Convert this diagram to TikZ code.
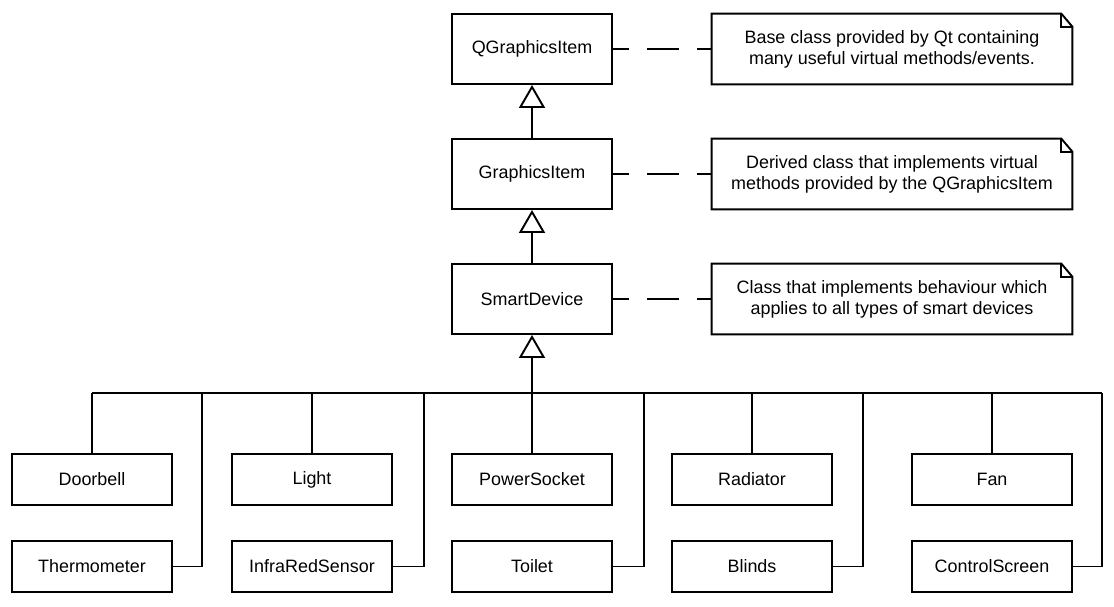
\documentclass[tikz,border=0pt]{standalone}
\usepackage{fontspec}
\setmainfont{Liberation Sans}
\usetikzlibrary{positioning,arrows.meta,calc}

\tikzset{
  classbox/.style={draw, rectangle, line width=1.1pt, minimum width=3.2cm, minimum height=1.4cm, inner sep=0pt},
  leafbox/.style={classbox, minimum height=1.02cm},
  notebox/.style={rectangle, minimum width=7.2cm, minimum height=1.4cm, inner sep=0pt, align=center},
  notelink/.style={line width=1.1pt, dash pattern=on 0.64cm off 0.36cm, dash phase=0.32cm},
  inherit/.style={line width=1.1pt, -{Triangle[open, length=0.46cm, width=0.52cm]}},
  wire/.style={line width=1.1pt},
}

\begin{document}
\begin{tikzpicture}[x=0.02cm, y=-0.02cm, font=\fontsize{10.2}{11.9}\selectfont]
    \useasboundingbox (0,0) rectangle (1114,606);

    %gerarchia principale
    \node[classbox] (QGI) at (532,49) {QGraphicsItem};
    \node[classbox] (GI) at (532,174) {GraphicsItem};
    \node[classbox] (SD) at (532,299) {SmartDevice};

    %note
    \node[notebox] (nQGI) at (892,49) {Base class provided by Qt containing\\ many useful virtual methods/events.};
    \node[notebox] (nGI) at (892,174) {Derived class that implements virtual\\methods provided by the QGraphicsItem};
    \node[notebox] (nSD) at (892,299) {Class that implements behaviour which\\ applies to all types of smart devices};
    \foreach \n in {nQGI,nGI,nSD} {
      \draw[wire] (\n.south west) -- (\n.north west) -- ([xshift=-0.22cm]\n.north east)
        -- ([yshift=-0.26cm]\n.north east) -- (\n.south east) -- cycle;
      \draw[wire] ([xshift=-0.22cm]\n.north east) -- ++(0,-0.26cm) -- ([yshift=-0.26cm]\n.north east);
    }
    \draw[notelink] (QGI.east) -- (nQGI.west);
    \draw[notelink] (GI.east) -- (nGI.west);
    \draw[notelink] (SD.east) -- (nSD.west);

    %dispositivi
    \node[leafbox] (Doorbell) at (92,479.5) {Doorbell};
    \node[leafbox] (Light) at (312,479.5) {Light};
    \node[leafbox] (PowerSocket) at (532,479.5) {PowerSocket};
    \node[leafbox] (Radiator) at (752,479.5) {Radiator};
    \node[leafbox] (Fan) at (992,479.5) {Fan};
    \node[leafbox] (Thermometer) at (92,566.5) {Thermometer};
    \node[leafbox] (InfraRedSensor) at (312,566.5) {InfraRedSensor};
    \node[leafbox] (Toilet) at (532,566.5) {Toilet};
    \node[leafbox] (Blinds) at (752,566.5) {Blinds};
    \node[leafbox] (ControlScreen) at (992,566.5) {ControlScreen};

    %ereditarieta
    \draw[inherit] (GI.north) -- (QGI.south);
    \draw[inherit] (SD.north) -- (GI.south);
    \draw[inherit] (PowerSocket.north) -- (SD.south);

    %bus
    \coordinate (bus) at (532,393);
    \coordinate (b1) at (202,393);
    \coordinate (b2) at (424,393);
    \coordinate (b3) at (644,393);
    \coordinate (b4) at (863,393);
    \coordinate (b5) at (1102,393);
    \draw[wire] (Doorbell.north |- bus) -- (b5);
    \draw[wire] (Doorbell.north) -- (Doorbell.north |- bus);
    \draw[wire] (Light.north) -- (Light.north |- bus);
    \draw[wire] (Radiator.north) -- (Radiator.north |- bus);
    \draw[wire] (Fan.north) -- (Fan.north |- bus);
    \draw[wire] (Thermometer.east) -| (b1);
    \draw[wire] (InfraRedSensor.east) -| (b2);
    \draw[wire] (Toilet.east) -| (b3);
    \draw[wire] (Blinds.east) -| (b4);
    \draw[wire] (ControlScreen.east) -| (b5);
\end{tikzpicture}
\end{document}
